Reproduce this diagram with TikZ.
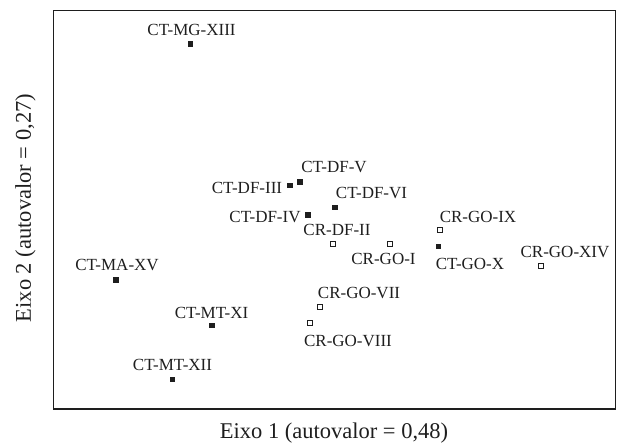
\documentclass[tikz,border=0pt]{standalone}
\usepackage{fontspec}
\setmainfont{Liberation Serif}
\definecolor{ink}{HTML}{1E1E1E}
\tikzset{
  filledpt/.style={rectangle, fill=ink, draw=none, minimum size=5.5pt, inner sep=0pt},
  openpt/.style={rectangle, fill=white, draw=ink, line width=0.9pt, minimum size=5pt, inner sep=0pt},
  lab/.style={inner sep=0pt, text=ink, font=\fontsize{17}{19}\selectfont},
  axlab/.style={inner sep=0pt, text=ink, font=\fontsize{22.5}{25}\selectfont},
}
\begin{document}
\begin{tikzpicture}[x=1pt,y=-1pt]
\useasboundingbox (0,0) rectangle (617,444);
\node[draw=ink, line width=1.5pt, inner sep=0pt, minimum width=562pt, minimum height=398pt, anchor=north west] (frame) at (52.5,10) {};
\node[axlab] (xl) at (334,433) {Eixo 1 (autovalor = 0,48)};
\node[axlab, rotate=90] (yl) at (25.5,208) {Eixo 2 (autovalor = 0,27)};
% points
\node[filledpt] (p13) at (190.5,44) {};
\node[filledpt] (p5) at (300,182) {};
\node[filledpt] (p3) at (290,185.5) {};
\node[filledpt] (p6) at (335,207.5) {};
\node[filledpt] (p4) at (308,215) {};
\node[openpt] (p2) at (332.5,243.5) {};
\node[openpt] (p1) at (390,243.5) {};
\node[openpt] (p9) at (439.5,229.5) {};
\node[filledpt] (p10) at (438.5,246.5) {};
\node[openpt] (p14) at (540.5,266) {};
\node[filledpt] (p15) at (116,280) {};
\node[openpt] (p7) at (320,306.5) {};
\node[openpt] (p8) at (309.5,322.5) {};
\node[filledpt] (p11) at (212,325.5) {};
\node[filledpt] (p12) at (172.5,379.5) {};
% labels
\node[lab] (l13) at (191.5,30) {CT-MG-XIII};
\node[lab] (l5) at (334,166.5) {CT-DF-V};
\node[lab] (l3) at (247,188) {CT-DF-III};
\node[lab] (l6) at (371.5,192.5) {CT-DF-VI};
\node[lab] (l4) at (265,217) {CT-DF-IV};
\node[lab] (l2) at (337,230) {CR-DF-II};
\node[lab] (l1) at (383.5,259) {CR-GO-I};
\node[lab] (l9) at (478,216.5) {CR-GO-IX};
\node[lab] (l10) at (470,264) {CT-GO-X};
\node[lab] (l14) at (565,252) {CR-GO-XIV};
\node[lab] (l15) at (117,265) {CT-MA-XV};
\node[lab] (l7) at (359,292.5) {CR-GO-VII};
\node[lab] (l8) at (348,340.5) {CR-GO-VIII};
\node[lab] (l11) at (211.5,312.5) {CT-MT-XI};
\node[lab] (l12) at (172.5,365) {CT-MT-XII};
\end{tikzpicture}
\end{document}
